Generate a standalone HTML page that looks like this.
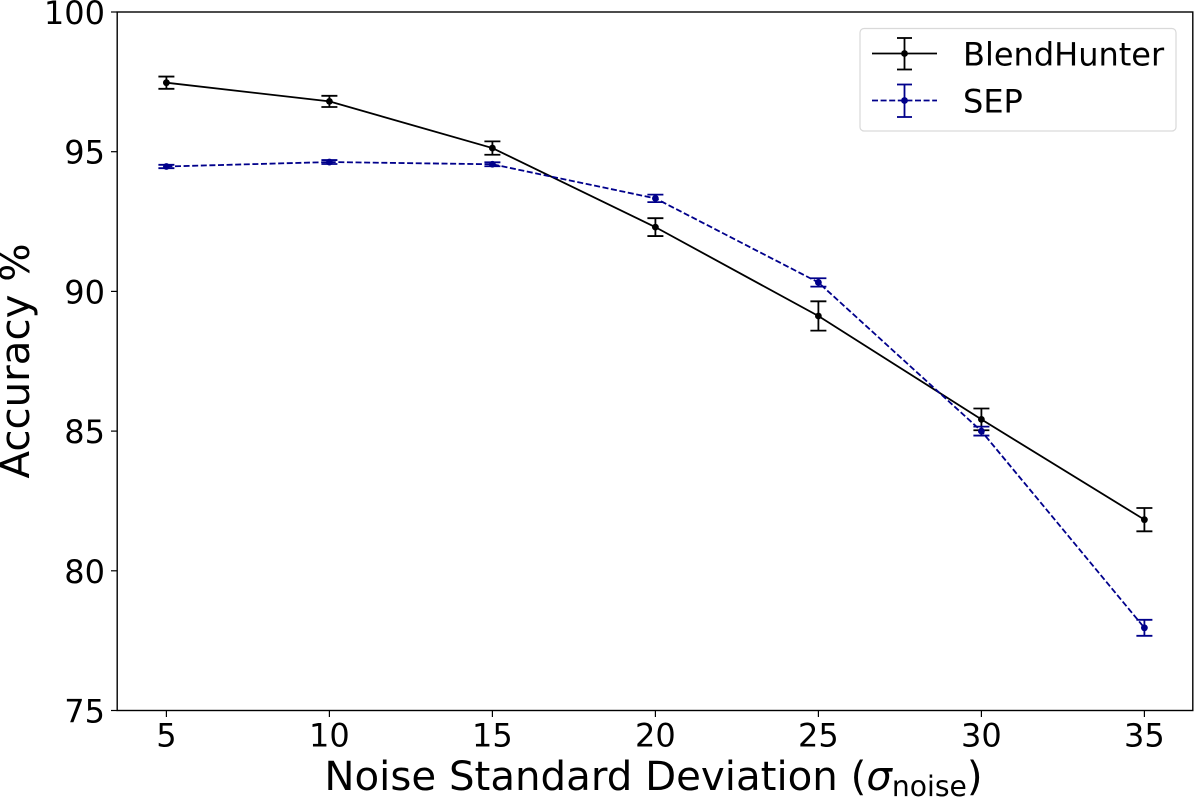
<!DOCTYPE html>
<html>
<head>
<meta charset="utf-8">
<title>Accuracy vs Noise</title>
<style>
html,body{margin:0;padding:0;background:#fff;width:1200px;height:797px;overflow:hidden}
svg{display:block}
text{font-family:"DejaVu Sans","Liberation Sans",sans-serif;fill:#000}
</style>
</head>
<body>
<svg id="chart" width="1200" height="797" viewBox="0 0 1200 797" xmlns="http://www.w3.org/2000/svg">
  <g id="plot"></g>
  <rect x="117.2" y="12" width="1075.6" height="698.5" fill="none" stroke="#000" stroke-width="1.4"/>
  <g id="ticks"></g>
  <text x="653.5" y="790" font-size="40.3" text-anchor="middle">Noise Standard Deviation (<tspan font-style="italic">σ</tspan><tspan font-size="28.2" dy="6">noise</tspan><tspan dy="-6">)</tspan></text>
  <text transform="translate(29,361) rotate(-90)" font-size="40.3" text-anchor="middle">Accuracy %</text>
  <g>
    <rect x="860" y="28.5" width="316" height="102.5" rx="4" ry="4" fill="#fff" fill-opacity="0.8" stroke="#d9d9d9" stroke-width="1.2"/>
    <g>
      <line x1="872" y1="53.5" x2="937" y2="53.5" stroke="#000" stroke-width="1.8"/>
      <line x1="904.5" y1="38" x2="904.5" y2="69.5" stroke="#000" stroke-width="1.8"/>
      <line x1="897" y1="38" x2="912" y2="38" stroke="#000" stroke-width="1.8"/>
      <line x1="897" y1="69.5" x2="912" y2="69.5" stroke="#000" stroke-width="1.8"/>
      <circle cx="904.5" cy="53.5" r="3.4" fill="#000"/>
      <text x="963" y="65.5" font-size="32">BlendHunter</text>
    </g>
    <g>
      <line x1="872" y1="100.5" x2="937" y2="100.5" stroke="#00008b" stroke-width="1.7" stroke-dasharray="6 2.6"/>
      <line x1="904.5" y1="84.5" x2="904.5" y2="117" stroke="#00008b" stroke-width="1.8"/>
      <line x1="897" y1="84.5" x2="912" y2="84.5" stroke="#00008b" stroke-width="1.8"/>
      <line x1="897" y1="117" x2="912" y2="117" stroke="#00008b" stroke-width="1.8"/>
      <circle cx="904.5" cy="100.5" r="3.4" fill="#00008b"/>
      <text x="963" y="112.5" font-size="32">SEP</text>
    </g>
  </g>
</svg>
<script>
const noiseLevels = [5, 10, 15, 20, 25, 30, 35];
const blendHunterAccuracy = [97.47, 96.8, 95.13, 92.3, 89.12, 85.42, 81.83];
const blendHunterError = [0.22, 0.2, 0.24, 0.32, 0.525, 0.39, 0.417];
const sepAccuracy = [94.47, 94.63, 94.55, 93.33, 90.32, 85.0, 77.96];
const sepError = [0.06, 0.07, 0.07, 0.135, 0.15, 0.16, 0.286];
const xTickLabels = [5, 10, 15, 20, 25, 30, 35];
const yTickLabels = [75, 80, 85, 90, 95, 100];

const NS = 'http://www.w3.org/2000/svg';
const xAxis = v => 166.4 + (v - 5) * 32.6;
const yAxis = v => 710.5 - (v - 75) * 27.94;

function make(parent, tag, attrs) {
  const el = document.createElementNS(NS, tag);
  for (const k in attrs) el.setAttribute(k, attrs[k]);
  parent.appendChild(el);
  return el;
}

const plot = document.getElementById('plot');
const ticks = document.getElementById('ticks');

function drawSeries(name, values, errors, color, dash) {
  const group = make(plot, 'g', {});
  
  
  const pts = values.map((v, i) => xAxis(noiseLevels[i]).toFixed(2) + ',' + yAxis(v).toFixed(2)).join(' ');
  const line = make(group, 'polyline', {points: pts, fill: 'none', stroke: color, 'stroke-width': 1.8});
  if (dash) line.setAttribute('stroke-dasharray', dash);
  
  
  values.forEach((v, i) => {
    const x = xAxis(noiseLevels[i]);
    const hi = yAxis(v + errors[i]);
    const lo = yAxis(v - errors[i]);
    const bar = make(group, 'g', {stroke: color, 'stroke-width': 1.8});
    
    
    make(bar, 'line', {x1: x, x2: x, y1: hi, y2: lo});
    make(bar, 'line', {x1: x - 8, x2: x + 8, y1: hi, y2: hi});
    make(bar, 'line', {x1: x - 8, x2: x + 8, y1: lo, y2: lo});
    const pt = make(group, 'circle', {cx: x, cy: yAxis(v), r: 3.4, fill: color});
    
    
  });
}

drawSeries('blendhunter', blendHunterAccuracy, blendHunterError, '#000', null);
drawSeries('sep', sepAccuracy, sepError, '#00008b', '6 2.6');

xTickLabels.forEach(v => {
  const x = xAxis(v);
  const t = make(ticks, 'line', {x1: x, x2: x, y1: 710.5, y2: 717, stroke: '#000', 'stroke-width': 1.2});
  
  
  const l = make(ticks, 'text', {x: x, y: 746.5, 'font-size': 32, 'text-anchor': 'middle'});
  l.textContent = v;
  
  
});

yTickLabels.forEach(v => {
  const y = yAxis(v);
  const t = make(ticks, 'line', {x1: 111, x2: 117.2, y1: y, y2: y, stroke: '#000', 'stroke-width': 1.2});
  
  
  const l = make(ticks, 'text', {x: 105, y: y + 12, 'font-size': 32, 'text-anchor': 'end'});
  l.textContent = v;
  
  
});
</script>
</body>
</html>
